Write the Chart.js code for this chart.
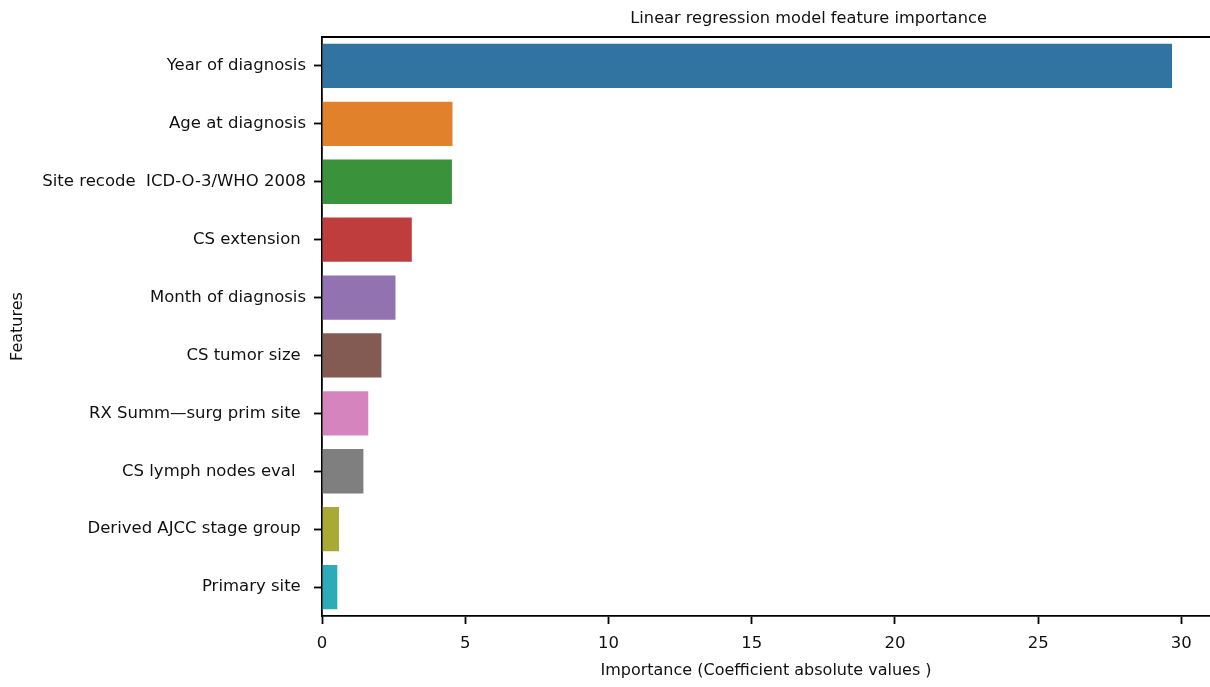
<!DOCTYPE html>
<html>
<head>
<meta charset="utf-8">
<script src="https://cdn.jsdelivr.net/npm/chart.js@4.4.1/dist/chart.umd.min.js"></script>
<style>
  html, body { margin: 0; padding: 0; background: #fff; }
  #wrap { width: 1210px; height: 687px; position: relative; }
</style>
</head>
<body>
<div id="wrap"><canvas id="chart"></canvas></div>
<script>
// Feature names, ordered from most to least important
const features = [
  'Year of diagnosis',
  'Age at diagnosis',
  'Site recode  ICD-O-3/WHO 2008',
  'CS extension ',
  'Month of diagnosis',
  'CS tumor size ',
  'RX Summ\u2014surg prim site ',
  'CS lymph nodes eval  ',
  'Derived AJCC stage group ',
  'Primary site '
];

// Absolute coefficient values of the linear regression model
const importance = [29.71, 4.59, 4.57, 3.17, 2.60, 2.11, 1.65, 1.48, 0.63, 0.57];

// Seaborn-style muted tab10 palette, one colour per bar
const barColors = [
  '#3274a1', '#e1812c', '#3a923a', '#c03d3e', '#9372b2',
  '#845b53', '#d684bd', '#7f7f7f', '#a9aa35', '#2eabb8'
];

const xTicks = [0, 5, 10, 15, 20, 25, 30];

const chartTitle = 'Linear regression model feature importance';
const xTitle = 'Importance (Coefficient absolute values )';
const yTitle = 'Features';

const FONT = "'DejaVu Sans', Verdana, sans-serif";

// Title and top spine drawn over the plotting area
const frame = {
  id: 'frame',
  afterDraw(chart) {
    const { ctx, chartArea } = chart;
    ctx.save();
    ctx.strokeStyle = '#000';
    ctx.lineWidth = 1.8;
    ctx.beginPath();
    ctx.moveTo(chartArea.left, chartArea.top);
    ctx.lineTo(chartArea.right, chartArea.top);
    ctx.stroke();
    ctx.fillStyle = '#111';
    ctx.font = '16.2px ' + FONT;
    ctx.textAlign = 'center';
    ctx.textBaseline = 'middle';
    const cx = chartArea.left + (chartArea.right - chartArea.left) * 0.548;
    ctx.fillText(chartTitle, cx, chartArea.top - 18);
    ctx.restore();
  }
};

new Chart(document.getElementById('chart'), {
  type: 'bar',
  data: {
    labels: features,
    datasets: [{
      data: importance,
      backgroundColor: barColors,
      borderColor: 'rgba(255,255,255,0.35)',
      borderWidth: 1,
      categoryPercentage: 0.8,
      barPercentage: 1.0
    }]
  },
  options: {
    indexAxis: 'y',
    responsive: true,
    maintainAspectRatio: false,
    animation: false,
    layout: { padding: { top: 37, right: 0, left: 0, bottom: 0 } },
    plugins: {
      legend: { display: false },
      tooltip: { enabled: false }
    },
    scales: {
      x: {
        type: 'linear',
        min: 0,
        max: 31,
        afterBuildTicks(scale) { scale.ticks = xTicks.map(v => ({ value: v })); },
        afterFit(scale) { scale.height = 71; },
        ticks: { color: '#111', font: { family: FONT, size: 16.5 }, padding: 10 },
        grid: { display: true, drawOnChartArea: false, drawTicks: true, tickLength: 8, tickWidth: 1.8, color: '#000' },
        border: { display: true, color: '#000', width: 1.8 },
        title: { display: true, text: xTitle, color: '#111', font: { family: FONT, size: 16 }, padding: { top: 3, bottom: 7 } }
      },
      y: {
        afterFit(scale) { scale.width = 322; },
        ticks: { color: '#111', font: { family: FONT, size: 16.5 }, padding: 8 },
        grid: { display: true, offset: false, drawOnChartArea: false, drawTicks: true, tickLength: 8, tickWidth: 1.8, color: '#000' },
        border: { display: true, color: '#000', width: 1.8 },
        title: { display: true, text: yTitle, color: '#111', font: { family: FONT, size: 16 }, padding: { top: 8, bottom: 0 } }
      }
    }
  },
  plugins: [frame]
});
</script>
</body>
</html>
